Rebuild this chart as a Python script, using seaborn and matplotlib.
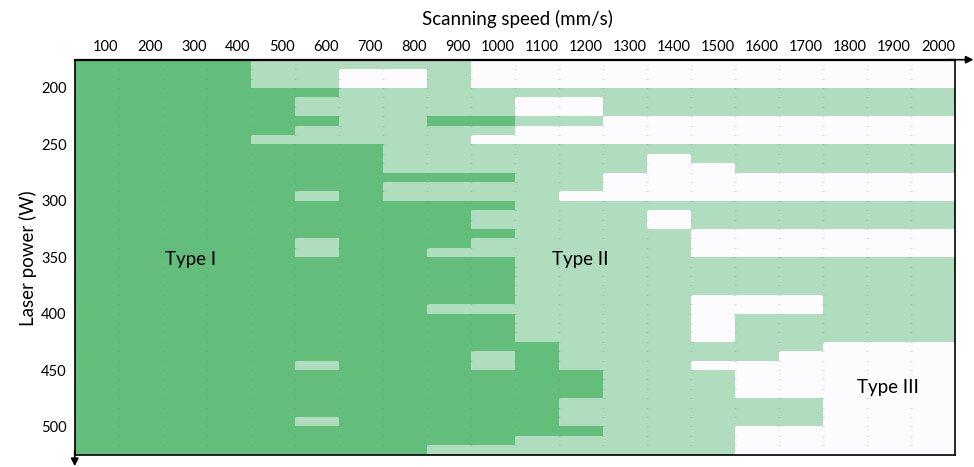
import numpy as np
import pandas as pd
import seaborn as sns
import matplotlib
matplotlib.use("Agg")
import matplotlib.pyplot as plt
from matplotlib.colors import ListedColormap

# Scanning speed columns (mm/s); each column spans the 100 mm/s below its label
speeds = [100, 200, 300, 400, 500, 600, 700, 800, 900, 1000,
          1100, 1200, 1300, 1400, 1500, 1600, 1700, 1800, 1900, 2000]

# Laser power axis (W)
power_ticks = [200, 250, 300, 350, 400, 450, 500]
power_min, power_max = 175, 525

# Process map, one string per power row (top = low power), one char per speed column:
# 1 = Type I, 2 = Type II, 3 = Type III
regime_rows = [
    "11112222233333333333",
    "11112233233333333333",
    "11112233233333333333",
    "11111122222222222222",
    "11111222223322222222",
    "11111222223322222222",
    "11111122112233333333",
    "11111222223333333333",
    "11112222233333333333",
    "11111112222222222222",
    "11111112222223222222",
    "11111112222223322222",
    "11111111112233333333",
    "11111112222233333333",
    "11111212222333333333",
    "11111111112222222222",
    "11111111122223222222",
    "11111111122223222222",
    "11111111112222333333",
    "11111211122222333333",
    "11111211222222333333",
    "11111111112222222222",
    "11111111112222222222",
    "11111111112222222222",
    "11111111112222222222",
    "11111111112222333222",
    "11111111222222333222",
    "11111111112222322222",
    "11111111112222322222",
    "11111111112222322222",
    "11111111111222222333",
    "11111111121222223333",
    "11111211121222333333",
    "11111111111122233333",
    "11111111111122233333",
    "11111111111122233333",
    "11111111111222222333",
    "11111111111222222333",
    "11111211111222222333",
    "11111111111122233333",
    "11111111112222233333",
    "11111111222222233333",
]

type_names = ["Type I", "Type II", "Type III"]
type_colors = ["#63BE7B", "#B0DDBD", "#FCFCFF"]

grid = np.array([[int(c) for c in row] for row in regime_rows])
n_rows, n_cols = grid.shape
df = pd.DataFrame(grid, columns=speeds)
row_step = (power_max - power_min) / n_rows

sns.set_theme(style="white")
plt.rcParams["font.family"] = ["Lato", "DejaVu Sans"]

W, H = 974, 467
fig = plt.figure(figsize=(W / 100, H / 100), dpi=100)
ax = fig.add_axes([74.7 / W, 1 - 454.7 / H, 880.3 / W, 395 / H])

sns.heatmap(df, cmap=ListedColormap(type_colors), vmin=0.5, vmax=3.5,
            cbar=False, ax=ax, xticklabels=False, yticklabels=False,
            linewidths=0)

# faint dotted guides on the column boundaries
for c in range(1, n_cols):
    ax.plot([c] * (n_rows - 1), np.arange(1, n_rows), ls="none", marker="_",
            ms=2, mew=0.7, color="#7a7a7a", alpha=0.3)

# ticks: speed labels sit at the right edge of their column
ax.xaxis.tick_top()
ax.set_xticks(np.arange(1, n_cols + 1))
ax.set_xticklabels(speeds, ha="right")
ax.set_yticks([(p - power_min) / row_step for p in power_ticks])
ax.set_yticklabels(power_ticks, rotation=0)
ax.tick_params(length=0, labelsize=10.5, colors="black")
ax.tick_params(axis="x", pad=4)
ax.tick_params(axis="y", pad=5.8)

ax.set_xlabel("Scanning speed (mm/s)", fontsize=13.5, color="black")
ax.xaxis.set_label_position("top")
ax.xaxis.set_label_coords(0.5025, 1.103)
ax.xaxis.label.set_va("center")
ax.set_ylabel("Laser power (W)", fontsize=13.5, color="black")
ax.yaxis.set_label_coords(-0.053, 0.498)
ax.yaxis.label.set_va("center")
ax.yaxis.label.set_ha("center")

for s in ax.spines.values():
    s.set_visible(True)
    s.set_color("black")
    s.set_linewidth(1.2)
ax.spines["top"].set_linewidth(1.6)

# axis arrows
arrow = dict(arrowstyle="-|>", color="black", lw=1.2, mutation_scale=11,
             shrinkA=0, shrinkB=0)
ax.annotate("", xy=(1.021, 1), xytext=(0.99, 1), xycoords="axes fraction",
            arrowprops=arrow, annotation_clip=False)
ax.annotate("", xy=(0, -0.029), xytext=(0, 0.01), xycoords="axes fraction",
            arrowprops=arrow, annotation_clip=False)

# regime labels
label_pos = [(2.64, 21.2), (11.48, 21.2), (18.48, 34.85)]
for name, (x, y) in zip(type_names, label_pos):
    ax.text(x, y, name, ha="center", va="center", fontsize=13.5, color="black")

fig.savefig("out.png", dpi=100)
